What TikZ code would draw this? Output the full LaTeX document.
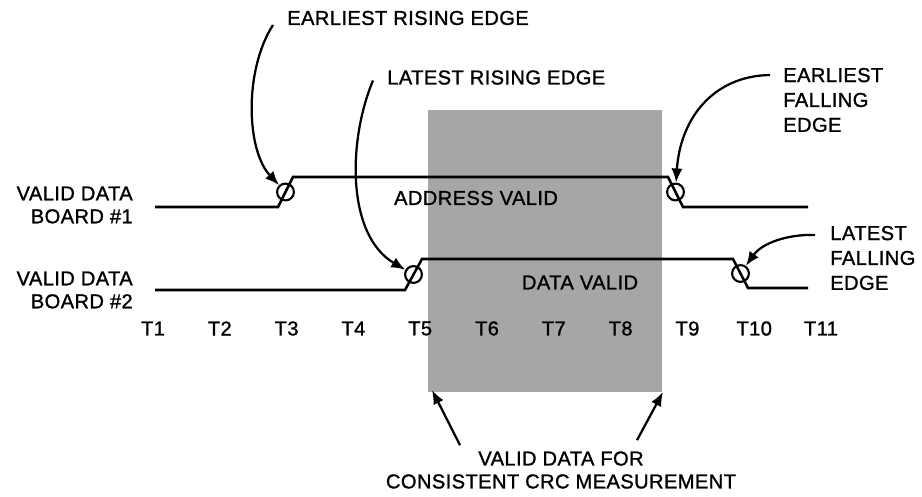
\documentclass[tikz,border=0pt]{standalone}
\usepackage{fontspec}
\setmainfont{Liberation Sans}[LetterSpace=2,FakeBold=1.2,AutoFakeBold=1.2]
\usetikzlibrary{arrows.meta,calc}

\begin{document}
\begin{tikzpicture}[x=0.025cm, y=-0.025cm, >={Latex[length=10pt,width=8pt]},
  font=\fontsize{14.3}{16.3}\selectfont\bfseries,
  lbl/.style={inner sep=0pt, align=left},
  tall/.style={font=\fontsize{14.3}{17.7}\selectfont\bfseries},
  sig/.style={line width=1.8pt, line join=miter},
  edgemark/.style={draw, circle, line width=1.5pt, minimum size=0.42cm, inner sep=0pt},
  callout/.style={->, line width=1.6pt},
  halftone/.style={fill=gray!70}]

\useasboundingbox (0,0) rectangle (922,497);

% ---- Shaded window: data valid on both boards ----
\coordinate (winNW) at (428,110);
\coordinate (winSE) at (662,392);
\fill[halftone] (winNW) rectangle (winSE);
\coordinate (winL) at (432,390);
\coordinate (winR) at (663,392);

% ---- Signal names ----
\node[lbl, align=right, anchor=east] (board1) at (133,205) {VALID DATA\\BOARD \#1};
\node[lbl, align=right, anchor=east] (board2) at (133,290) {VALID DATA\\BOARD \#2};

% ---- Waveforms with edge marks ----
\node[edgemark] (rise1) at (285.5,192) {};
\node[edgemark] (fall1) at (675.5,192) {};
\node[edgemark] (rise2) at (413.5,274.5) {};
\node[edgemark] (fall2) at (740.5,273.5) {};

\draw[sig] (155,207) -- (278,207) -- (293,177) -- (668,177) -- (683,207) -- (808,207);
\draw[sig] (155,290) -- (405,290) -- (422,259) -- (733,259) -- (748,288) -- (808,288);

\node[lbl] (addr) at (476,198) {ADDRESS VALID};
\node[lbl] (data) at (580,282.5) {DATA VALID};

% ---- Time axis ----
\foreach \i in {1,...,11}
  \node[lbl] (t\i) at ({153+66.8*(\i-1)},328.5) {T\i};

% ---- Callouts ----
\node[lbl, anchor=west] (ere) at (287,18) {EARLIEST RISING EDGE};
\node[lbl, anchor=west] (lre) at (387,77.5) {LATEST RISING EDGE};
\node[lbl, tall, anchor=west] (efe) at (783,100) {EARLIEST\\FALLING\\EDGE};
\node[lbl, tall, anchor=west] (lfe) at (830,258) {LATEST\\FALLING\\EDGE};
\node[lbl, align=center] (crc) at (561,470) {VALID DATA FOR\\CONSISTENT CRC MEASUREMENT};

\draw[callout] ($(ere.west)+(-14,7)$) .. controls (244,70) and (246,150) .. (rise1);
\draw[callout] ($(lre.west)+(-14,3)$) .. controls (348,140) and (346,235) .. (rise2);
\draw[callout] ($(efe.west)+(-13,-25)$) .. controls (712,76) and (680,120) .. (fall1);
\draw[callout] ($(lfe.west)+(-15,-23)$) .. controls (788,234) and (762,243) .. (fall2);
\draw[callout] ($(crc.north)+(-101,-6)$) -- (winL);
\draw[callout] ($(crc.north)+(76,-11)$) -- (winR);

\end{tikzpicture}
\end{document}
